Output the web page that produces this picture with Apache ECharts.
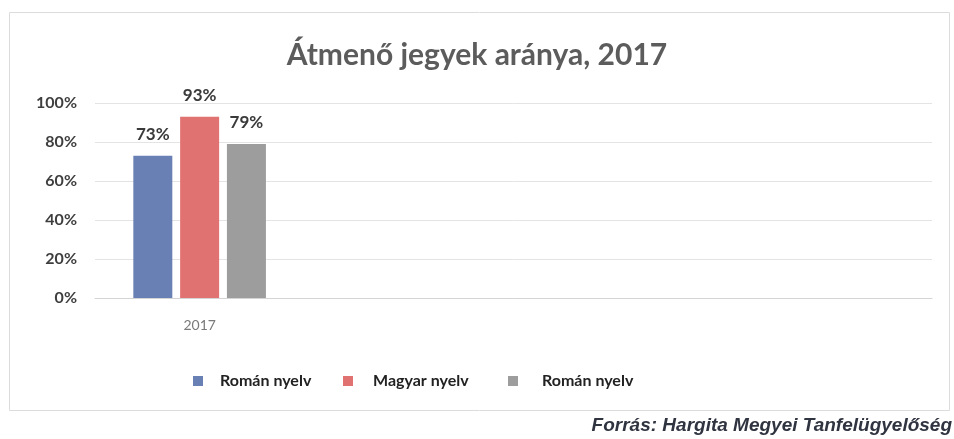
<!DOCTYPE html>
<html>
<head>
<meta charset="utf-8">
<title>Átmenő jegyek aránya, 2017</title>
<script src="https://cdn.jsdelivr.net/npm/echarts@6/dist/echarts.min.js"></script>
<style>
  html, body { margin: 0; padding: 0; background: #fff; }
  #chart { width: 954px; height: 439px; }
</style>
</head>
<body>
<div id="chart"></div>
<script>
// values
const categories = ['2017', '', '', '']
const seriesNames = ['Román nyelv', 'Magyar nyelv', 'Román nyelv ']
const romanValues = [73, null, null, null]
const magyarValues = [93, null, null, null]
const roman2Values = [79, null, null, null]
const yTicks = [0, 20, 40, 60, 80, 100]

const colors = ['#6880b4', '#e07272', '#9d9d9d']
const labelFont = 'Lato, "Open Sans", sans-serif'

const chart = echarts.init(document.getElementById('chart'))

const barSeries = (name, data, color) => ({
  name: name,
  type: 'bar',
  data: data,
  barWidth: 39,
  barGap: '20%',
  itemStyle: { color: color },
  label: {
    show: true,
    position: 'top',
    distance: 13,
    formatter: '{c}%',
    color: '#3a3a3a',
    fontFamily: labelFont,
    fontWeight: 'bold',
    fontSize: 17
  }
})

// excel spreads the legend entries in fixed slots, so one legend per entry
const legendSlots = [
  { left: 188, pad: 12 },
  { left: 338, pad: 15 },
  { left: 503, pad: 19 }
]
const legends = seriesNames.map((name, i) => ({
  data: [name],
  left: legendSlots[i].left,
  top: 368,
  itemWidth: 10,
  itemHeight: 10,
  icon: 'rect',
  textStyle: {
    color: '#222',
    fontFamily: labelFont,
    fontWeight: 'bold',
    fontSize: 16,
    padding: [0, 0, 0, legendSlots[i].pad]
  }
}))

const option = {
  animation: false,
  title: {
    text: 'Átmenő jegyek aránya, 2017',
    left: 'center',
    top: 35,
    textStyle: {
      color: '#5c5c5c',
      fontFamily: labelFont,
      fontWeight: 'bold',
      fontSize: 30
    }
  },
  legend: legends,
  grid: {
    left: 95,
    right: 22,
    top: 103,
    bottom: 141
  },
  xAxis: {
    type: 'category',
    data: categories,
    axisLine: { lineStyle: { color: '#d4d4d4' } },
    axisTick: { show: false },
    axisLabel: {
      color: '#7a7a7a',
      fontFamily: labelFont,
      fontSize: 14,
      margin: 20
    }
  },
  yAxis: {
    type: 'value',
    min: yTicks[0],
    max: yTicks[yTicks.length - 1],
    interval: 20,
    axisLine: { show: false },
    axisTick: { show: false },
    splitLine: { lineStyle: { color: '#e4e4e4' } },
    axisLabel: {
      formatter: '{value}%',
      color: '#3e3e3e',
      fontFamily: labelFont,
      fontWeight: 'bold',
      fontSize: 16,
      margin: 18
    }
  },
  graphic: [
    {
      type: 'rect',
      shape: { x: 9.5, y: 12.5, width: 940, height: 398 },
      style: { fill: 'none', stroke: '#dcdcdc', lineWidth: 1 },
      silent: true
    },
    {
      type: 'text',
      right: 2,
      top: 416,
      style: {
        text: 'Forrás: Hargita Megyei Tanfelügyelőség',
        fill: '#2f3440',
        font: 'italic bold 19px "Liberation Sans", Arial, sans-serif'
      }
    }
  ],
  series: [
    barSeries(seriesNames[0], romanValues, colors[0]),
    barSeries(seriesNames[1], magyarValues, colors[1]),
    barSeries(seriesNames[2], roman2Values, colors[2])
  ]
}

chart.setOption(option)
window.addEventListener('resize', () => chart.resize())
</script>
</body>
</html>
